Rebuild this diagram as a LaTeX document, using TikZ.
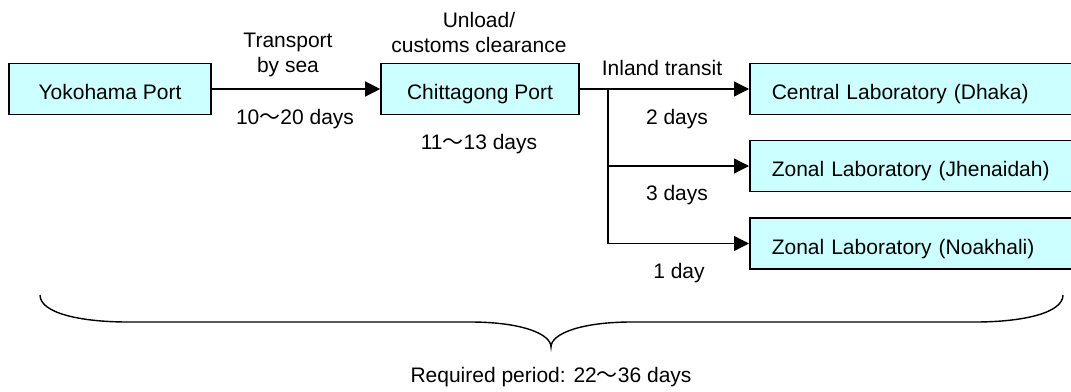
\documentclass[tikz,border=0pt]{standalone}
\usepackage{fontspec}
\setmainfont{Liberation Sans}
\newfontfamily\cjk{Noto Sans CJK JP}
\usetikzlibrary{arrows.meta}
\newcommand{\wave}{{\cjk 〜}}
\definecolor{boxfill}{HTML}{CCFFFF}
\tikzset{
  portbox/.style={draw=black, line width=1.6pt, fill=boxfill, rectangle,
    minimum height=51pt, inner ysep=0pt, text height=21pt, text depth=0pt},
  labbox/.style={portbox, anchor=west, text width=300pt, inner xsep=22pt, align=left},
  flow/.style={line width=1.3pt, -{Triangle[length=15pt,width=15pt]}},
  lbl/.style={inner sep=0pt, anchor=base},
  lbltwo/.style={inner sep=0pt, anchor=south, align=center, text depth=0pt}
}
\begin{document}
\begin{tikzpicture}[x=1pt, y=-1pt, font=\fontsize{21}{25}\selectfont]
\useasboundingbox (0,0) rectangle (1071,391);

% ports
\node[portbox, minimum width=202pt] (yoko) at (110,89) {Yokohama Port};
\node[portbox, minimum width=198pt] (chit) at (480,89) {Chittagong Port};

% laboratories (boxes run on past the right margin)
\node[labbox] (central) at (749,89) {Central Laboratory (Dhaka)};
\node[labbox] (jhen) at (749,166) {Zonal Laboratory (Jhenaidah)};
\node[labbox] (noak) at (749,243.5) {Zonal Laboratory (Noakhali)};

% connectors
\coordinate (j) at (608,89);
\draw[flow] (yoko.east) -- (chit.west);
\draw[flow] (chit.east) -- (central.west);
\draw[flow] (j) |- (jhen.west);
\draw[flow] (j) |- (noak.west);

% stage labels
\node[lbltwo] (tlab) at (288,73) {Transport\\by sea};
\node[lbl] (tdays) at (295,124) {10\wave 20 days};
\node[lbltwo] (ulab) at (479,53) {Unload/\\customs clearance};
\node[lbl] (udays) at (479,149) {11\wave 13 days};
\node[lbl] (ilab) at (662,75) {Inland transit};
\node[lbl] (d2) at (677,124) {2 days};
\node[lbl] (d3) at (677,200) {3 days};
\node[lbl] (d1) at (679,278) {1 day};

% overall brace
\coordinate (bl) at (40,295);
\coordinate (bt) at (551,347);
\coordinate (br) at (1063,295);
\draw[line width=1.4pt] (bl) .. controls (40,313) and (80,322) .. (128,322)
  -- (470,322) .. controls (522,322) and (551,334) .. (bt)
  .. controls (551,334) and (580,322) .. (632,322)
  -- (975,322) .. controls (1023,322) and (1063,313) .. (br);
\node[lbl] (total) at (551,382) {Required period: 22\wave 36 days};
\end{tikzpicture}
\end{document}
